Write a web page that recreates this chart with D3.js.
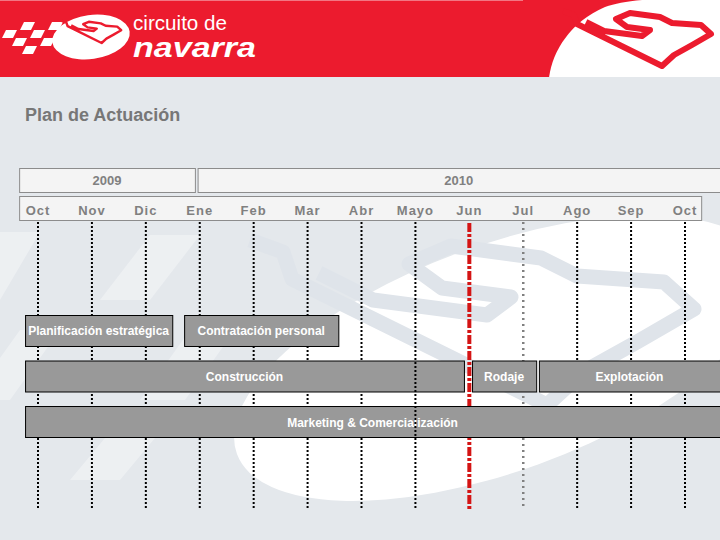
<!DOCTYPE html>
<html><head><meta charset="utf-8">
<script src="https://cdn.jsdelivr.net/npm/d3@7"></script>
<style>body{margin:0;background:#E4E8EC}svg{display:block;font-family:"Liberation Sans",Arial,sans-serif}</style>
</head><body><svg id="c" width="720" height="540"></svg>
<script>
// ---- data ----
const title = "Plan de Actuación";
const months = ["Oct","Nov","Dic","Ene","Feb","Mar","Abr","Mayo","Jun","Jul","Ago","Sep","Oct"];
const years = ["2009","2010"];
const yearStart = [-0.35, 2.96];   // in month units (0 = Oct 2009)
const yearEnd = [2.91, 13.2];
const tasks = ["Planificación estratégica","Contratación personal","Construcción","Rodaje","Explotación","Marketing & Comercialización"];
const taskStart = [-0.24, 2.71, -0.24, 8.05, 9.29, -0.24];
const taskEnd = [2.49, 5.57, 7.90, 9.24, 12.65, 12.65];
const taskRow = [0, 0, 1, 1, 1, 2];
const currentMonth = 8;  // Jun 2010 (today marker)
const nextMonth = 9;     // Jul 2010
const overlayMonth = 7;  // Mayo line drawn over bars

// ---- scales ----
const x = d3.scaleLinear().domain([0, 12]).range([38, 685]);
const y = d3.scaleBand().domain([0, 1, 2]).range([315, 437]).paddingInner(0.319).paddingOuter(0);

const svg = d3.select("#c");
const RED = "#EC1B2E";
const W = 720;

// ---- background + watermark ----
svg.append("rect").attr("width", W).attr("height", 540).attr("fill", "#E4E8EC");
const wm = svg.append("g");
[[0,232,40,232,0,300,-40,300],[20,330,60,330,10,400,-30,400],[150,235,200,235,150,300,100,300],[190,330,235,330,185,400,140,400],[120,420,170,420,120,480,70,480]]
  .forEach(p => wm.append("polygon").attr("points", d3.range(0, 8, 2).map(i => p[i] + "," + p[i+1]).join(" "))
    .attr("fill", "#fff").attr("opacity", 0.35));
wm.append("ellipse").attr("transform", "translate(500,358) rotate(-20)").attr("rx", 280).attr("ry", 113).attr("fill", "#fff");
const trackPath = "M563,11 L574,15 L577,24 L662,66 L674,55 L692,45 L711,34 L701,25 L672,23 L660,17 L630,13 L616,19 L627,27 L650,30 L642,36 L604,31 L586,22";
wm.append("path").attr("d", trackPath).attr("transform", "translate(250,240) scale(3) translate(-563,-11)")
  .attr("fill", "none").attr("stroke", "#DFE4EA").attr("stroke-width", 5).attr("stroke-linejoin", "round");

// ---- header ----
svg.append("rect").attr("width", W).attr("height", 77).attr("fill", RED);
svg.append("rect").attr("width", 523).attr("height", 1).attr("fill", "#F27683");
const hdr = svg.append("g");
hdr.append("clipPath").attr("id", "hc").append("rect").attr("width", W).attr("height", 77);
const hr = hdr.append("g").attr("clip-path", "url(#hc)");
hr.append("path").attr("d", "M549,78 C552,52 570,22 605,7 C625,0 650,-2 720,-2 L720,78 Z").attr("fill", "#fff");
hr.append("path").attr("d", trackPath).attr("fill", "none").attr("stroke", RED).attr("stroke-width", 6).attr("stroke-linejoin", "round");
// left logo
const lg = svg.append("g");
for (let r = 0; r < 4; r++) {
  for (let c = 0; c < 4; c++) {
    if ((r + c) % 2) continue;
    const cx = 52 - c * 14 - r * 4;
    const cy = 22 + r * 8;
    if (cx < 4) continue;
    lg.append("polygon").attr("points", `${cx},${cy} ${cx+11},${cy} ${cx+7},${cy+8} ${cx-4},${cy+8}`).attr("fill", "#fff");
  }
}
lg.append("ellipse").attr("transform", "translate(91,37) rotate(-8)").attr("rx", 39).attr("ry", 22).attr("fill", "#fff");
lg.append("path").attr("d", trackPath).attr("transform", "translate(62,21) scale(0.4) translate(-563,-11)")
  .attr("fill", "none").attr("stroke", RED).attr("stroke-width", 6).attr("stroke-linejoin", "round");
lg.append("text").attr("x", 133).attr("y", 30).attr("fill", "#fff").attr("font-size", 20)
  .attr("textLength", 94).attr("lengthAdjust", "spacingAndGlyphs").text("circuito de");
lg.append("text").attr("x", 133).attr("y", 57).attr("fill", "#fff").attr("font-size", 27)
  .attr("font-weight", "bold").attr("font-style", "italic")
  .attr("textLength", 123).attr("lengthAdjust", "spacingAndGlyphs").text("navarra");

// ---- title ----
svg.append("text").attr("x", 25).attr("y", 121).attr("fill", "#777").attr("font-size", 18)
  .attr("font-weight", "bold").text(title);

// ---- year boxes ----
const yg = svg.append("g");
years.forEach((yr, i) => {
  const x0 = x(yearStart[i]), x1 = x(yearEnd[i]);
  yg.append("rect").attr("x", x0 + 0.5).attr("y", 168.5).attr("width", x1 - x0).attr("height", 24)
    .attr("fill", "#F4F4F4").attr("stroke", "#8C8C8C");
  const cx = (x0 + Math.min(x1, W)) / 2;
  yg.append("text").attr("x", cx).attr("y", 185).attr("text-anchor", "middle").attr("fill", "#808080")
    .attr("font-size", 13).attr("font-weight", "bold").text(yr);
});
// month row
svg.append("rect").attr("x", x(-0.35) + 0.5).attr("y", 196.5).attr("width", x(12.3) - x(-0.35)).attr("height", 24)
  .attr("fill", "#F4F4F4").attr("stroke", "#8C8C8C");
svg.append("g").selectAll("text").data(months).join("text")
  .attr("x", (d, i) => x(i)).attr("y", 215).attr("text-anchor", "middle").attr("fill", "#808080")
  .attr("font-size", 13).attr("font-weight", "bold").attr("letter-spacing", 1).text(d => d);

// ---- grid lines ----
function monthLine(g, i) {
  const l = g.append("line").attr("x1", x(i)).attr("x2", x(i));
  if (i === currentMonth) {
    l.attr("y1", 223).attr("y2", 510).attr("stroke", "#D41414").attr("stroke-width", 4).attr("stroke-dasharray", "9,2,3,2");
  } else if (i === nextMonth) {
    l.attr("y1", 222).attr("y2", 506).attr("stroke", "#808080").attr("stroke-width", 2.5).attr("stroke-dasharray", "2,4");
  } else {
    l.attr("y1", 222).attr("y2", 508).attr("stroke", "#000").attr("stroke-width", 2).attr("stroke-dasharray", "2,2");
  }
}
const gl = svg.append("g");
months.forEach((m, i) => { if (i !== overlayMonth) monthLine(gl, i); });

// ---- bars ----
const bars = svg.append("g");
tasks.forEach((t, i) => {
  const x0 = x(taskStart[i]), x1 = x(taskEnd[i]);
  bars.append("rect").attr("x", x0 + 0.5).attr("y", y(taskRow[i]) + 0.5).attr("width", x1 - x0).attr("height", y.bandwidth())
    .attr("fill", "#999").attr("stroke", "#000");
  const cx = (x0 + Math.min(x1, W)) / 2;
  bars.append("text").attr("x", cx).attr("y", y(taskRow[i]) + y.bandwidth() / 2 + 5).attr("text-anchor", "middle")
    .attr("fill", "#fff").attr("font-size", 12).attr("font-weight", "bold").text(t);
});
monthLine(svg.append("g"), overlayMonth);
</script></body></html>
